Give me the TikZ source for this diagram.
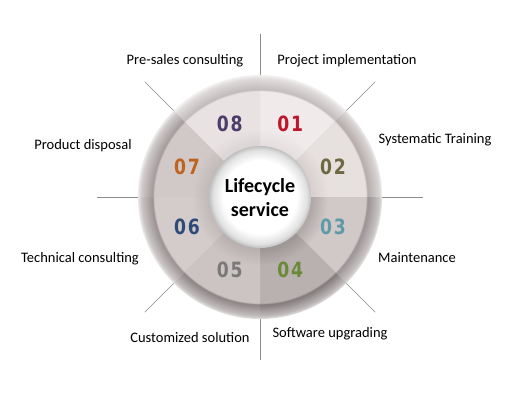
\documentclass[tikz,border=0pt]{standalone}
\usepackage{fontspec}
\setmainfont{Carlito}
\newfontfamily\numfont[FakeStretch=0.82,LetterSpace=8]{DejaVu Sans}
\pgfdeclareradialshading[sfe,sf,sri,sro]{sect}{\pgfpoint{0bp}{0bp}}{color(0bp)=(sfe); color(10.6bp)=(sfe); color(14bp)=(sf); color(21.7bp)=(sf); color(22bp)=(sri); color(24.3bp)=(sro); color(25bp)=(white!60!sro); color(50bp)=(white)}
\pgfdeclareradialshading{innerdisc}{\pgfpoint{0bp}{0bp}}{color(0bp)=(white); color(18bp)=(white); color(23bp)=(black!12); color(25bp)=(black!25); color(50bp)=(black!25)}
\begin{document}
\begin{tikzpicture}[x=1pt,y=1pt,
  lbl/.style={font=\fontsize{14.5}{16}\selectfont, text=black, inner sep=0pt},
  num/.style={font=\numfont\bfseries\fontsize{21}{22}\selectfont, inner sep=0pt},
  spoke/.style={draw=black!45, line width=0.6pt},
  centertext/.style={font=\bfseries\fontsize{20}{24}\selectfont, align=center, text=black}]
\useasboundingbox (-260,-211) rectangle (267,197);
\fill[white] (-260,-211) rectangle (267,197);
\coordinate (o) at (0,0);
% spokes
\foreach \a in {0,45,...,315} {
  \coordinate (sp\a) at (\a:163);
  \draw[spoke] (o) -- (sp\a);
}
% sectors
\foreach \s/\e/\fe/\f/\ri/\ro in {
  45/90/E4DEDE/F0EAEA/C2BCBC/E2DDDD,
  0/45/D8D0CE/E6E0DE/B4ACAA/D8D2D2,
  -45/0/B0A8A6/D0C9C7/9A9294/C8C2C2,
  -90/-45/9E9694/B9B1AF/827A7A/BEB8B8,
  -135/-90/B8B0AE/CBC4C2/8C8484/C2BCBC,
  180/225/C2BAB8/D3CCCA/9A9292/CAC4C4,
  135/180/C2BAB8/D0C9C7/A39B9B/CFC9C9,
  90/135/DAD4D4/E8E2E2/C0BABA/DFDADA} {
  \definecolor{sfe}{HTML}{\fe}
  \definecolor{sf}{HTML}{\f}
  \definecolor{sri}{HTML}{\ri}
  \definecolor{sro}{HTML}{\ro}
  \begin{scope}
    \clip (o) -- (\s:124) arc[start angle=\s, end angle=\e, radius=124] -- cycle;
    \shade[shading=sect] (o) circle (122);
  \end{scope}
}
% inner disc
\shade[shading=innerdisc] (o) circle (51);
\node[centertext] (c) at (0,-1) {Lifecycle\\service};
% numbers
\node[num, text={rgb,255:red,192;green,20;blue,42}] (n1) at (67.5:79) {01};
\node[num, text={rgb,255:red,110;green,104;blue,66}] (n2) at (22.5:79) {02};
\node[num, text={rgb,255:red,96;green,154;blue,168}] (n3) at (-22.5:79) {03};
\node[num, text={rgb,255:red,106;green,138;blue,58}] (n4) at (-67.5:79) {04};
\node[num, text={rgb,255:red,122;green,120;blue,120}] (n5) at (-112.5:79) {05};
\node[num, text={rgb,255:red,46;green,74;blue,120}] (n6) at (-157.5:79) {06};
\node[num, text={rgb,255:red,192;green,99;blue,30}] (n7) at (157.5:79) {07};
\node[num, text={rgb,255:red,78;green,61;blue,106}] (n8) at (112.5:79) {08};
% labels
\node[lbl] (l8) at (-75,136) {Pre-sales consulting};
\node[lbl] (l1) at (87,136) {Project implementation};
\node[lbl] (l2) at (175,57) {Systematic Training};
\node[lbl] (l7) at (-177,51) {Product disposal};
\node[lbl] (l6) at (-180,-62) {Technical consulting};
\node[lbl] (l3) at (157,-61) {Maintenance};
\node[lbl] (l5) at (-70,-141) {Customized solution};
\node[lbl] (l4) at (70,-137) {Software upgrading};
\end{tikzpicture}
\end{document}
